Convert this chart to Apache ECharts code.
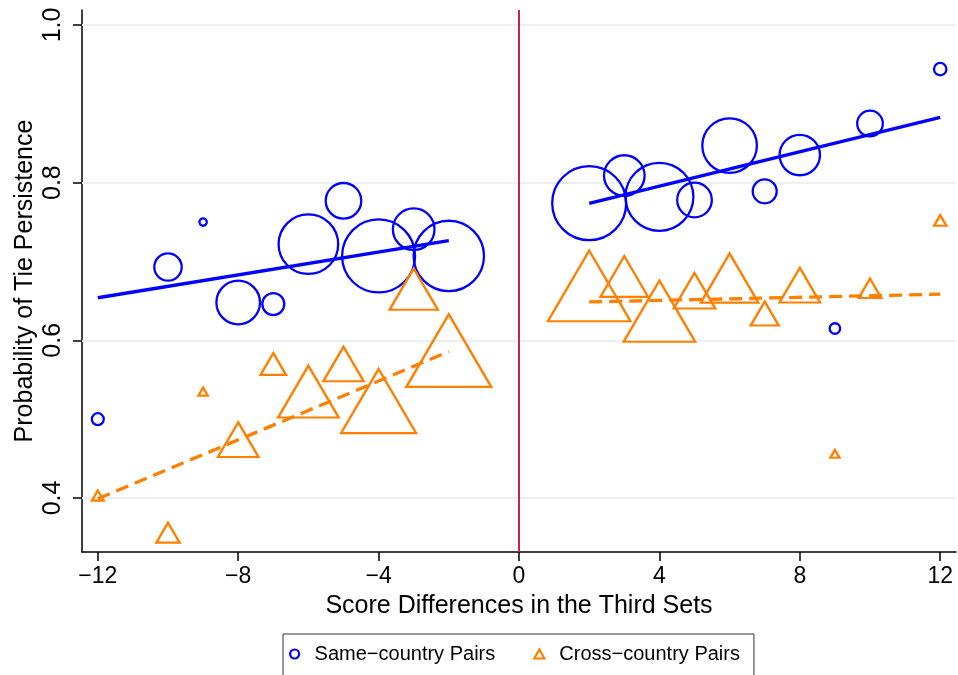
<!DOCTYPE html>
<html>
<head>
<meta charset="utf-8">
<script src="https://cdn.jsdelivr.net/npm/echarts@6/dist/echarts.min.js"></script>
<style>
html,body{margin:0;padding:0;background:#fff;}
#chart{width:958px;height:675px;}
</style>
</head>
<body>
<div id="chart"></div>
<script>
// ---- data ----
const xVals = [-12, -10, -9, -8, -7, -6, -5, -4, -3, -2, 2, 3, 4, 5, 6, 7, 8, 9, 10, 12];
const sameY = [0.500, 0.693, 0.750, 0.648, 0.646, 0.722, 0.777, 0.707, 0.741, 0.707,
               0.774, 0.809, 0.782, 0.778, 0.847, 0.789, 0.835, 0.615, 0.875, 0.944];
const sameWeight = [2.6, 13.7, 1.0, 34.7, 8.8, 64.9, 23.1, 97.3, 31.6, 90.5,
                    100.0, 30.1, 84.4, 21.9, 54.4, 10.5, 29.8, 2.0, 12.0, 2.8];
const crossY = [0.403, 0.356, 0.535, 0.474, 0.570, 0.535, 0.570, 0.523, 0.665, 0.587,
                0.669, 0.681, 0.637, 0.663, 0.679, 0.634, 0.670, 0.456, 0.666, 0.752];
const crossWeight = [2.5, 9.9, 1.6, 30.1, 12.0, 67.1, 29.7, 102.7, 42.6, 131.9,
                     124.6, 41.4, 93.6, 31.6, 60.6, 14.3, 30.1, 1.5, 9.3, 2.8];
const sameFitLeft = [[-12, 0.654], [-2, 0.7266]];
const sameFitRight = [[2, 0.7736], [12, 0.8827]];
const crossFitLeft = [[-12, 0.399], [-2, 0.5858]];
const crossFitRight = [[2, 0.6487], [12, 0.6585]];
const xTicks = [-12, -8, -4, 0, 4, 8, 12];
const yTicks = [0.4, 0.6, 0.8, 1.0];
const seriesNames = ['Same\u2212country Pairs', 'Cross\u2212country Pairs'];
const xTitle = 'Score Differences in the Third Sets';
const yTitle = 'Probability of Tie Persistence';

// ---- styling ----
const BLUE = '#0000ff';
const ORANGE = '#ff8000';
const FONT = '"Liberation Sans", Arial, Helvetica, sans-serif';
const circleScale = 7.4;   // px per sqrt(weight)
const triScale = 7.4;

const samePts = xVals.map((x, i) => ({ value: [x, sameY[i]], symbolSize: circleScale * Math.sqrt(sameWeight[i]) }));
const crossPts = xVals.map((x, i) => {
  const w = triScale * Math.sqrt(crossWeight[i]);
  return { value: [x, crossY[i]], symbolSize: [w, w * 0.855] };
});

const fmtX = v => (v < 0 ? '\u2212' + Math.abs(v) : String(v));

const chart = echarts.init(document.getElementById('chart'), null, { renderer: 'canvas' });
chart.setOption({
  animation: false,
  backgroundColor: '#fff',
  textStyle: { fontFamily: FONT },
  grid: { left: 82, right: 2, top: 10, bottom: 123, containLabel: false },
  xAxis: {
    type: 'value', min: -12.45, max: 12.45,
    name: xTitle, nameLocation: 'middle', nameGap: 42, nameMoveOverlap: false,
    nameTextStyle: { fontSize: 25, color: '#000', fontFamily: FONT },
    axisLine: { show: true, onZero: false, lineStyle: { color: '#000', width: 1.5 } },
    axisTick: { show: true, customValues: xTicks, length: 9, lineStyle: { color: '#000', width: 1.5 } },
    axisLabel: { customValues: xTicks, formatter: fmtX, fontSize: 23, color: '#000', margin: 13, fontFamily: FONT },
    splitLine: { show: false }
  },
  yAxis: {
    type: 'value', min: 0.3315, max: 1.019,
    name: yTitle, nameLocation: 'middle', nameGap: 44, nameRotate: 90, nameMoveOverlap: false,
    nameTextStyle: { fontSize: 25, color: '#000', fontFamily: FONT },
    axisLine: { show: true, onZero: false, lineStyle: { color: '#000', width: 1.5 } },
    axisTick: { show: true, customValues: yTicks, length: 9, lineStyle: { color: '#000', width: 1.5 } },
    axisLabel: { customValues: yTicks, rotate: 90, formatter: v => v.toFixed(1), fontSize: 25, color: '#000', margin: 16, fontFamily: FONT },
    splitLine: { show: false }
  },
  legend: {
    data: [
      { name: seriesNames[0], icon: 'circle', itemStyle: { color: 'transparent', borderColor: BLUE, borderWidth: 2.2, opacity: 1 } },
      { name: seriesNames[1], icon: 'triangle', itemStyle: { color: 'transparent', borderColor: ORANGE, borderWidth: 2.2, opacity: 1 } }
    ],
    left: 283, top: 634,
    orient: 'horizontal',
    itemWidth: 10, itemHeight: 9, itemGap: 38,
    padding: [10, 14, 12, 6],
    borderColor: '#333', borderWidth: 1,
    formatter: n => '{t|' + n + '}',
    textStyle: { color: '#000', fontSize: 20, fontFamily: FONT,
      rich: { t: { fontSize: 20, fontFamily: FONT, color: '#000', padding: [0, 0, 0, 10] } } }
  },
  series: [
    {
      type: 'line', name: 'grid', data: [], silent: true, z: 0,
      markLine: {
        z: 1, silent: true, symbol: 'none', label: { show: false },
        lineStyle: { color: '#eaf0f3', width: 2, type: 'solid' },
        data: yTicks.map(v => ({ yAxis: v }))
      }
    },
    {
      type: 'line', name: 'zero', data: [], silent: true, z: 0,
      markLine: {
        z: 2, silent: true, symbol: 'none', label: { show: false },
        lineStyle: { color: '#c8214c', width: 2, type: 'solid' },
        data: [{ xAxis: 0 }]
      }
    },
    {
      type: 'scatter', name: seriesNames[0], data: samePts, symbol: 'circle', z: 3,
      itemStyle: { color: 'transparent', borderColor: BLUE, borderWidth: 2.3, opacity: 1 }
    },
    {
      type: 'scatter', name: seriesNames[1], data: crossPts, symbol: 'triangle', z: 3,
      itemStyle: { color: 'transparent', borderColor: ORANGE, borderWidth: 2.3, opacity: 1 }
    },
    { type: 'line', name: 'fitSameL', data: sameFitLeft, showSymbol: false, z: 4, lineStyle: { color: BLUE, width: 3.3 } },
    { type: 'line', name: 'fitSameR', data: sameFitRight, showSymbol: false, z: 4, lineStyle: { color: BLUE, width: 3.3 } },
    { type: 'line', name: 'fitCrossL', data: crossFitLeft, showSymbol: false, z: 4, lineStyle: { color: ORANGE, width: 3.3, type: [13, 7] } },
    { type: 'line', name: 'fitCrossR', data: crossFitRight, showSymbol: false, z: 4, lineStyle: { color: ORANGE, width: 3.3, type: [13, 7] } }
  ]
});
</script>
</body>
</html>
